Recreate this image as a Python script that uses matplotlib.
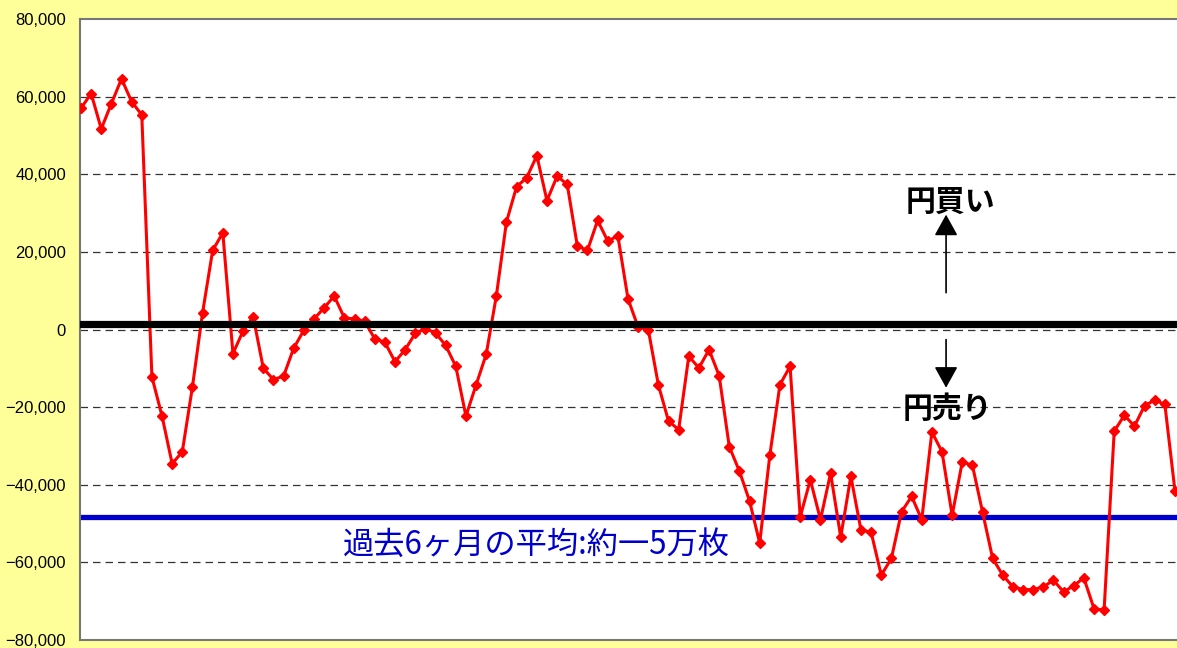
import numpy as np
import matplotlib
matplotlib.use('Agg')
import matplotlib.pyplot as plt
from matplotlib.ticker import FuncFormatter, MultipleLocator

plt.rcParams['font.family'] = ['Noto Sans CJK JP', 'DejaVu Sans']

# weekly net position (contracts)
positions = [
    57000, 60800, 51700, 58200, 64600, 58700, 55300, -12200, -22300, -34600,
    -31500, -14800, 4300, 20400, 24900, -6200, -400, 3300, -10000, -12900,
    -12000, -4800, -200, 2700, 5600, 8600, 3000, 2700, 2100, -2400,
    -3300, -8300, -5200, -1000, 200, -900, -4100, -9500, -22300, -14300,
    -6400, 8600, 27700, 36800, 39100, 44800, 33200, 39500, 37400, 21500,
    20400, 28100, 22800, 24100, 7900, 600, 0, -14300, -23600, -25800,
    -6900, -9900, -5200, -11900, -30200, -36500, -44200, -55000, -32400, -14200,
    -9500, -48300, -38700, -49000, -37000, -53500, -37800, -51700, -52200, -63300,
    -59000, -47000, -43000, -49000, -26400, -31500, -47900, -34100, -35000, -47000,
    -59000, -63300, -66300, -67000, -67000, -66300, -64600, -67600, -66000, -64000,
    -71900, -72300, -26200, -22100, -24900, -19600, -18200, -19300, -41700,
]
neutral_level = 1500
avg_6m = -48200
avg_label = '過去6ヶ月の平均:約一5万枚'
buy_label = '円買い'
sell_label = '円売り'

W, H = 1177, 648
fig = plt.figure(figsize=(W / 100, H / 100), dpi=100)
fig.patch.set_facecolor('#FFFF99')

# axes runs off the right edge, like the original screenshot
ax = fig.add_axes([80 / W, 8 / H, 1110 / W, 621 / H])
ax.set_facecolor('white')

x = np.arange(len(positions))
px_per_pt = 1094 / 108
x0 = -1 / px_per_pt
ax.set_xlim(x0, x0 + 1110 / px_per_pt)
ax.set_ylim(-80000, 80000)

ax.yaxis.set_major_locator(MultipleLocator(20000))
ax.yaxis.set_major_formatter(FuncFormatter(lambda v, p: f'{v:,.0f}'.replace('-', '\u2212')))
ax.set_xticks([])
ax.tick_params(axis='y', length=0, pad=10)
for lab in ax.get_yticklabels():
    lab.set_fontfamily('Liberation Sans')
    lab.set_fontsize(12)

for v in range(-60000, 80000, 20000):
    ax.axhline(v, color='#333333', lw=0.9, ls=(0, (6, 4)), zorder=1)

for s in ['top', 'bottom', 'left']:
    ax.spines[s].set_color('#777777')
    ax.spines[s].set_linewidth(1.5)
ax.spines['right'].set_visible(False)

ax.axhline(avg_6m, color='#0000CC', lw=3.8, zorder=2)
ax.plot(x, positions, color='#FF0000', lw=2.2, marker='D', markersize=5.5,
        markeredgecolor='#FF0000', zorder=3)
ax.axhline(neutral_level, color='black', lw=5.2, zorder=4)

# buy / sell arrows
arrow = dict(arrowstyle='-|>,head_length=0.65,head_width=0.36',
             mutation_scale=20, lw=1.2, color='black', shrinkA=0, shrinkB=0)
ax.annotate('', xy=(85.4, 29600), xytext=(85.4, 9500), arrowprops=arrow, zorder=5)
ax.annotate('', xy=(85.4, -15000), xytext=(85.4, -2600), arrowprops=arrow, zorder=5)
ax.text(85.8, 33000, buy_label, ha='center', va='center', fontsize=21.5,
        fontweight='bold', color='black', zorder=6)
ax.text(85.5, -20400, sell_label, ha='center', va='center', fontsize=21.5,
        fontweight='bold', color='black', zorder=6)
ax.text(25.9, -55400, avg_label, ha='left', va='center', fontsize=22.5,
        color='#0000CC', zorder=6)

fig.savefig('out.png', dpi=100, facecolor=fig.get_facecolor())
